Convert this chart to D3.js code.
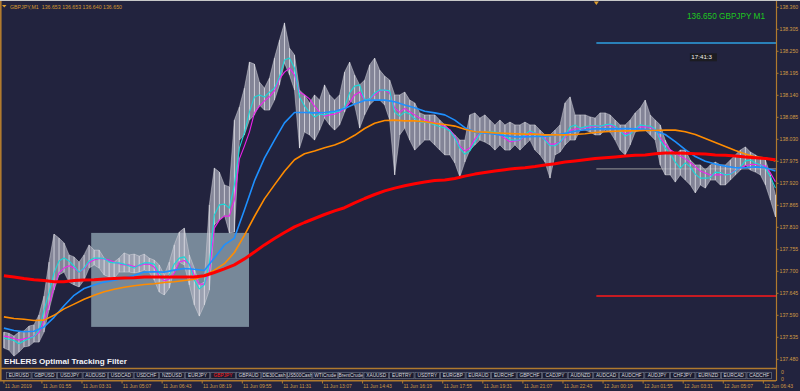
<!DOCTYPE html>
<html>
<head>
<meta charset="utf-8">
<script src="https://cdn.jsdelivr.net/npm/d3@7"></script>
<style>
body { margin: 0; background: #22233e; }
svg { display: block; }
</style>
</head>
<body>
<div id="chart"></div>
<script>
// GBPJPY M1, 11-12 Jun 2019. Times are minutes counted from 11 Jun 00:00.
var firstMinute = 24;
var fineStep = 12;     // price bars, cyan and magenta filters
var coarseStep = 24;   // blue, orange and red averages

var priceHigh = [
  137.548, 137.545, 137.538, 137.548, 137.551, 137.563, 137.566, 137.591, 137.638, 137.723,
  137.793, 137.783, 137.771, 137.741, 137.736, 137.723, 137.741, 137.766, 137.753, 137.753,
  137.733, 137.723, 137.723, 137.733, 137.746, 137.741, 137.743, 137.738, 137.743, 137.733,
  137.728, 137.716, 137.691, 137.723, 137.766, 137.798, 137.808, 137.741, 137.708, 137.666,
  137.673, 137.866, 137.958, 137.948, 137.916, 137.911, 138.078, 138.111, 138.158, 138.223,
  138.218, 138.173, 138.158, 138.183, 138.233, 138.278, 138.321, 138.258, 138.241, 138.153,
  138.141, 138.121, 138.141, 138.128, 138.166, 138.141, 138.128, 138.141, 138.198, 138.223,
  138.191, 138.166, 138.178, 138.216, 138.233, 138.203, 138.188, 138.178, 138.141, 138.141,
  138.148, 138.128, 138.121, 138.096, 138.091, 138.091, 138.091, 138.078, 138.066, 138.053,
  138.041, 138.028, 138.028, 138.091, 138.096, 138.083, 138.091, 138.078, 138.066, 138.078,
  138.066, 138.073, 138.066, 138.066, 138.073, 138.066, 138.066, 138.053, 138.041, 138.041,
  138.053, 138.066, 138.121, 138.136, 138.091, 138.091, 138.091, 138.086, 138.083, 138.096,
  138.096, 138.091, 138.078, 138.066, 138.066, 138.078, 138.096, 138.108, 138.128, 138.091,
  138.078, 138.066, 138.028, 138.003, 137.991, 138.003, 138.003, 137.978, 137.966, 137.966,
  137.953, 137.966, 137.973, 137.966, 137.966, 137.978, 137.991, 138.003, 138.011, 137.998,
  137.991, 137.983, 137.978, 137.941, 137.891
];
var priceLow = [
  137.508, 137.503, 137.488, 137.498, 137.511, 137.513, 137.523, 137.523, 137.548, 137.603,
  137.653, 137.691, 137.698, 137.673, 137.666, 137.661, 137.678, 137.708, 137.716, 137.708,
  137.691, 137.686, 137.683, 137.698, 137.698, 137.698, 137.696, 137.698, 137.703, 137.698,
  137.678, 137.648, 137.641, 137.658, 137.703, 137.723, 137.716, 137.666, 137.616, 137.588,
  137.616, 137.653, 137.816, 137.828, 137.841, 137.796, 137.798, 138.028, 138.041, 138.078,
  138.091, 138.116, 138.103, 138.103, 138.128, 138.166, 138.221, 138.191, 138.153, 138.008,
  138.048, 138.041, 138.028, 138.053, 138.083, 138.066, 138.053, 138.066, 138.098, 138.128,
  138.116, 138.058, 138.091, 138.116, 138.128, 138.128, 138.116, 138.078, 137.941, 138.041,
  138.058, 138.028, 138.003, 138.016, 138.028, 138.028, 138.016, 138.003, 137.991, 137.991,
  137.971, 137.936, 137.973, 138.003, 138.016, 138.028, 138.023, 138.016, 138.003, 138.016,
  138.003, 138.003, 138.016, 138.003, 138.016, 138.028, 138.003, 137.991, 137.973, 137.933,
  137.991, 137.998, 138.016, 138.028, 138.028, 138.053, 138.053, 138.048, 138.041, 138.041,
  138.053, 138.048, 138.028, 138.003, 137.991, 138.016, 138.048, 138.053, 138.053, 138.041,
  138.028, 137.966, 137.941, 137.941, 137.923, 137.941, 137.928, 137.916, 137.896, 137.916,
  137.908, 137.928, 137.928, 137.916, 137.916, 137.928, 137.941, 137.953, 137.966, 137.953,
  137.948, 137.941, 137.916, 137.878, 137.836
];
var cyanVals = [
  137.533, 137.530, 137.527, 137.519, 137.526, 137.532, 137.537, 137.553, 137.603, 137.646,
  137.696, 137.726, 137.733, 137.726, 137.713, 137.698, 137.708, 137.726, 137.733, 137.733,
  137.732, 137.723, 137.721, 137.721, 137.718, 137.713, 137.708, 137.716, 137.721, 137.721,
  137.718, 137.696, 137.681, 137.691, 137.718, 137.733, 137.736, 137.718, 137.678, 137.656,
  137.666, 137.718, 137.841, 137.866, 137.868, 137.858, 137.916, 138.008, 138.046, 138.098,
  138.136, 138.141, 138.136, 138.148, 138.158, 138.186, 138.228, 138.233, 138.208, 138.136,
  138.113, 138.098, 138.086, 138.093, 138.091, 138.096, 138.098, 138.101, 138.111, 138.146,
  138.163, 138.166, 138.128, 138.131, 138.146, 138.153, 138.153, 138.151, 138.098, 138.088,
  138.098, 138.093, 138.081, 138.073, 138.073, 138.071, 138.066, 138.062, 138.058, 138.051,
  138.033, 138.008, 137.993, 138.001, 138.023, 138.043, 138.048, 138.049, 138.048, 138.046,
  138.039, 138.029, 138.028, 138.029, 138.042, 138.051, 138.046, 138.039, 138.028, 138.014,
  138.014, 138.023, 138.038, 138.061, 138.066, 138.058, 138.061, 138.064, 138.064, 138.063,
  138.066, 138.068, 138.063, 138.051, 138.038, 138.043, 138.056, 138.066, 138.064, 138.063,
  138.056, 138.028, 138.008, 137.993, 137.973, 137.958, 137.971, 137.961, 137.943, 137.933,
  137.933, 137.934, 137.948, 137.947, 137.941, 137.943, 137.951, 137.961, 137.976, 137.978,
  137.971, 137.966, 137.958, 137.936, 137.908
];
var magentaVals = [
  137.538, 137.536, 137.532, 137.528, 137.531, 137.534, 137.538, 137.547, 137.576, 137.616,
  137.661, 137.696, 137.708, 137.714, 137.708, 137.698, 137.706, 137.722, 137.728, 137.732,
  137.731, 137.728, 137.723, 137.719, 137.716, 137.716, 137.712, 137.714, 137.718, 137.718,
  137.711, 137.688, 137.676, 137.681, 137.696, 137.723, 137.727, 137.718, 137.691, 137.668,
  137.668, 137.696, 137.808, 137.828, 137.838, 137.838, 137.878, 137.981, 138.013, 138.048,
  138.096, 138.113, 138.126, 138.136, 138.151, 138.181, 138.198, 138.208, 138.191, 138.148,
  138.141, 138.131, 138.113, 138.098, 138.088, 138.091, 138.093, 138.098, 138.106, 138.121,
  138.141, 138.148, 138.128, 138.131, 138.141, 138.151, 138.153, 138.146, 138.108, 138.098,
  138.107, 138.099, 138.091, 138.083, 138.078, 138.074, 138.072, 138.068, 138.062, 138.054,
  138.037, 138.013, 138.001, 138.008, 138.031, 138.044, 138.047, 138.046, 138.044, 138.041,
  138.032, 138.024, 138.026, 138.028, 138.038, 138.047, 138.046, 138.042, 138.031, 138.018,
  138.018, 138.023, 138.034, 138.052, 138.056, 138.057, 138.059, 138.061, 138.062, 138.063,
  138.064, 138.066, 138.061, 138.054, 138.043, 138.047, 138.056, 138.061, 138.061, 138.060,
  138.054, 138.034, 138.018, 138.004, 137.996, 137.988, 137.981, 137.972, 137.961, 137.951,
  137.946, 137.941, 137.941, 137.941, 137.942, 137.944, 137.952, 137.959, 137.964, 137.967,
  137.967, 137.966, 137.963, 137.946, 137.924
];
var blueVals = [
  137.558, 137.552, 137.549, 137.550, 137.561, 137.585, 137.614, 137.640, 137.657, 137.666,
  137.673, 137.678, 137.683, 137.690, 137.698, 137.699, 137.698, 137.703, 137.707, 137.705,
  137.702, 137.733, 137.766, 137.783, 137.853, 137.926, 137.983, 138.028, 138.071, 138.097,
  138.097, 138.096, 138.097, 138.100, 138.107, 138.118, 138.127, 138.128, 138.128, 138.124,
  138.116, 138.109, 138.100, 138.096, 138.091, 138.078, 138.059, 138.048, 138.046, 138.043,
  138.039, 138.036, 138.036, 138.037, 138.037, 138.040, 138.045, 138.050, 138.054, 138.056,
  138.056, 138.056, 138.057, 138.056, 138.055, 138.051, 138.042, 138.024, 138.004, 137.987,
  137.975, 137.968, 137.963, 137.959, 137.959, 137.961, 137.959, 137.951
];
var orangeVals = [
  137.586, 137.582, 137.580, 137.577, 137.578, 137.590, 137.606, 137.618, 137.630, 137.640,
  137.649, 137.655, 137.660, 137.664, 137.667, 137.669, 137.672, 137.674, 137.677, 137.680,
  137.689, 137.703, 137.719, 137.747, 137.790, 137.837, 137.881, 137.916, 137.950, 137.979,
  137.994, 138.001, 138.009, 138.016, 138.026, 138.040, 138.057, 138.070, 138.077, 138.078,
  138.076, 138.076, 138.074, 138.070, 138.067, 138.063, 138.055, 138.049, 138.048, 138.046,
  138.045, 138.044, 138.043, 138.043, 138.041, 138.041, 138.041, 138.042, 138.044, 138.047,
  138.049, 138.050, 138.051, 138.051, 138.052, 138.052, 138.053, 138.053, 138.049, 138.042,
  138.032, 138.022, 138.012, 138.002, 137.993, 137.986, 137.983, 137.976
];
var redVals = [
  137.689, 137.686, 137.682, 137.679, 137.677, 137.674, 137.674, 137.677, 137.678, 137.679,
  137.681, 137.682, 137.683, 137.684, 137.686, 137.686, 137.686, 137.686, 137.686, 137.686,
  137.689, 137.697, 137.706, 137.716, 137.731, 137.748, 137.766, 137.782, 137.797, 137.811,
  137.822, 137.832, 137.842, 137.851, 137.859, 137.871, 137.882, 137.892, 137.901, 137.908,
  137.914, 137.919, 137.923, 137.927, 137.928, 137.932, 137.938, 137.943, 137.947, 137.951,
  137.954, 137.957, 137.959, 137.962, 137.966, 137.969, 137.973, 137.976, 137.979, 137.982,
  137.984, 137.986, 137.988, 137.990, 137.991, 137.994, 137.996, 137.996, 137.995, 137.994,
  137.993, 137.991, 137.990, 137.988, 137.986, 137.984, 137.982, 137.979
];

var priceTicks = [138.360, 138.305, 138.250, 138.195, 138.140, 138.085, 138.030, 137.975,
  137.920, 137.865, 137.810, 137.755, 137.700, 137.645, 137.590, 137.535, 137.480];
var timeTicks = [24, 115, 211, 307, 403, 499, 595, 691, 787, 883,
  979, 1075, 1171, 1267, 1363, 1459, 1555, 1651, 1747, 1843];
var timeLabels = ["11 Jun 2019", "11 Jun 01:55", "11 Jun 03:31", "11 Jun 05:07", "11 Jun 06:43",
  "11 Jun 08:19", "11 Jun 09:55", "11 Jun 11:31", "11 Jun 13:07", "11 Jun 14:43",
  "11 Jun 16:19", "11 Jun 17:55", "11 Jun 19:31", "11 Jun 21:07", "11 Jun 22:43",
  "12 Jun 00:19", "12 Jun 01:55", "12 Jun 03:31", "12 Jun 05:07", "12 Jun 06:43"];
var symbols = ["EURUSD", "GBPUSD", "USDJPY", "AUDUSD", "USDCAD", "USDCHF", "NZDUSD", "EURJPY",
  "GBPJPY", "GBPAUD", "DE30Cash", "US500Cash", "WTICrude", "BrentCrude", "XAUUSD", "EURTRY",
  "USDTRY", "EURGBP", "EURAUD", "EURCHF", "GBPCHF", "CADJPY", "AUDNZD", "AUDCAD", "AUDCHF",
  "AUDJPY", "CHFJPY", "EURNZD", "EURCAD", "CADCHF"];
var activeSymbol = "GBPJPY";
var levelPrices = [138.271, 137.956, 137.638];
var levelStart = 1443;
var boxTimes = [233, 611];
var boxPrices = [137.561, 137.796];
var headerText = "GBPJPY,M1  136.653 136.653 136.640 136.650";
var bidText = "136.650 GBPJPY M1";
var clockText = "17:41:3";

var W = 800, H = 391;
var plotRight = 776, plotTop = 3, plotBottom = 368;
var axisColor = "#b07a2e", labelColor = "#d09a44";

var svg = d3.select("#chart").append("svg")
  .attr("width", W)
  .attr("height", H)
  .style("font-family", "'Liberation Sans', Arial, sans-serif");

svg.append("rect").attr("width", W).attr("height", H).attr("fill", "#22233e");

var x = d3.scaleLinear().domain([0, 1000]).range([-6.1, 411.4]);
var y = d3.scaleLinear().domain([137.480, 138.360]).range([359.3, 7.3]);

svg.append("defs").append("clipPath").attr("id", "plotClip")
  .append("rect")
  .attr("x", 1).attr("y", plotTop)
  .attr("width", plotRight - 1).attr("height", plotBottom - plotTop);

var g = svg.append("g").attr("clip-path", "url(#plotClip)");

// rectangle object drawn behind everything
g.append("rect")
  .attr("x", x(boxTimes[0]))
  .attr("y", y(boxPrices[1]))
  .attr("width", x(boxTimes[1]) - x(boxTimes[0]))
  .attr("height", y(boxPrices[0]) - y(boxPrices[1]))
  .attr("fill", "#778899");

// horizontal levels
var levelColors = ["#2a80b8", "#9a9a9a", "#ff1a1a"];
var levelWidths = [2, 1, 1.5];
g.selectAll(".level").data(levelPrices).enter().append("line")
  .attr("class", "level")
  .attr("x1", x(levelStart)).attr("x2", plotRight)
  .attr("y1", function(d) { return y(d); })
  .attr("y2", function(d) { return y(d); })
  .attr("stroke", function(d, i) { return levelColors[i]; })
  .attr("stroke-width", function(d, i) { return levelWidths[i]; });

// price bars: a grey band between highs and lows, with the sampled bars on top
var bars = priceHigh.map(function(h, i) {
  return { t: firstMinute + i * fineStep, h: h, l: priceLow[i] };
});
g.append("path").datum(bars)
  .attr("d", d3.area()
    .x(function(d) { return x(d.t); })
    .y0(function(d) { return y(d.l); })
    .y1(function(d) { return y(d.h); }))
  .attr("fill", "#a9abba")
  .attr("fill-opacity", 0.72)
  .attr("stroke", "#d6d6de")
  .attr("stroke-width", 0.6)
  .attr("stroke-opacity", 0.8);
g.selectAll(".bar").data(bars).enter().append("line")
  .attr("class", "bar")
  .attr("x1", function(d) { return x(d.t); })
  .attr("x2", function(d) { return x(d.t); })
  .attr("y1", function(d) { return y(d.h); })
  .attr("y2", function(d) { return y(d.l); })
  .attr("stroke", "#f2f2f6")
  .attr("stroke-width", 0.8)
  .attr("stroke-opacity", 0.85);

function series(vals, step) {
  return vals.map(function(v, i) { return { t: firstMinute + i * step, v: v }; });
}
var line = d3.line()
  .x(function(d) { return x(d.t); })
  .y(function(d) { return y(d.v); });

var lines = [
  { data: series(magentaVals, fineStep), color: "#ee22ee", width: 1.1 },
  { data: series(cyanVals, fineStep), color: "#18d8d8", width: 1.1 },
  { data: series(blueVals, coarseStep), color: "#1e90ff", width: 1.6 },
  { data: series(orangeVals, coarseStep), color: "#ff8c00", width: 1.6 },
  { data: series(redVals, coarseStep), color: "#ff0000", width: 3 }
];
lines.forEach(function(s) {
  g.append("path").datum(s.data)
    .attr("d", line)
    .attr("fill", "none")
    .attr("stroke", s.color)
    .attr("stroke-width", s.width)
    .attr("stroke-linejoin", "round");
});

// frame
svg.append("line").attr("x1", 0).attr("x2", W).attr("y1", 0.5).attr("y2", 0.5)
  .attr("stroke", "#c8c8c8");
svg.append("line").attr("x1", 0.8).attr("x2", 0.8).attr("y1", 1).attr("y2", 381)
  .attr("stroke", axisColor).attr("stroke-width", 1.6);
svg.append("line").attr("x1", plotRight + 0.5).attr("x2", plotRight + 0.5).attr("y1", 1).attr("y2", 381)
  .attr("stroke", axisColor).attr("stroke-width", 1.2);
svg.append("line").attr("x1", 0).attr("x2", plotRight).attr("y1", plotBottom + 0.5).attr("y2", plotBottom + 0.5)
  .attr("stroke", axisColor).attr("stroke-width", 1.6);
svg.append("line").attr("x1", 0).attr("x2", plotRight).attr("y1", 380.8).attr("y2", 380.8)
  .attr("stroke", axisColor).attr("stroke-width", 1.4);

// price axis
var yAxis = svg.append("g");
yAxis.selectAll(".ptick").data(priceTicks).enter().append("line")
  .attr("x1", plotRight).attr("x2", plotRight + 2.5)
  .attr("y1", function(d) { return y(d); })
  .attr("y2", function(d) { return y(d); })
  .attr("stroke", axisColor);
yAxis.selectAll(".plabel").data(priceTicks).enter().append("text")
  .attr("x", 779.5)
  .attr("y", function(d) { return y(d) + 1.9; })
  .attr("font-size", 5.2)
  .attr("fill", labelColor)
  .text(function(d) { return d3.format(".3f")(d); });

// indicator sub-window scale
[372, 379].forEach(function(v) {
  svg.append("text").attr("x", 781).attr("y", v + 1.9).attr("font-size", 5.2)
    .attr("fill", labelColor).text("0");
});

// time axis
var xAxis = svg.append("g");
xAxis.selectAll(".ttick").data(timeTicks).enter().append("line")
  .attr("x1", function(d) { return x(d); })
  .attr("x2", function(d) { return x(d); })
  .attr("y1", 381).attr("y2", 383.5)
  .attr("stroke", axisColor);
xAxis.selectAll(".tlabel").data(timeTicks).enter().append("text")
  .attr("x", function(d) { return x(d) + 0.8; })
  .attr("y", 388)
  .attr("font-size", 5)
  .attr("fill", labelColor)
  .text(function(d, i) { return timeLabels[i]; });

// symbol buttons
var btnLeft = 6, btnRight = 772, btnTop = 372.3, btnH = 6.4;
var btnW = (btnRight - btnLeft) / symbols.length;
var btn = svg.selectAll(".btn").data(symbols).enter().append("g")
  .attr("class", "btn")
  .attr("transform", function(d, i) { return "translate(" + (btnLeft + i * btnW) + "," + btnTop + ")"; });
btn.append("clipPath").attr("id", function(d, i) { return "btnClip" + i; })
  .append("rect").attr("x", 0.5).attr("y", 0).attr("width", btnW - 1).attr("height", btnH);
btn.append("rect")
  .attr("x", 0.5).attr("y", 0)
  .attr("width", btnW - 1).attr("height", btnH)
  .attr("fill", "#1b1c30")
  .attr("stroke", "#6c7384")
  .attr("stroke-width", 0.7);
btn.append("text")
  .attr("clip-path", function(d, i) { return "url(#btnClip" + i + ")"; })
  .attr("x", btnW / 2).attr("y", btnH - 1.5)
  .attr("text-anchor", "middle")
  .attr("font-size", 4.8)
  .attr("fill", function(d) { return d === activeSymbol ? "#ff2020" : "#d8d8de"; })
  .text(function(d) { return d; });

// indicator name
svg.append("text")
  .attr("x", 4).attr("y", 364)
  .attr("font-size", 8.1)
  .attr("font-weight", "bold")
  .attr("fill", "#f2f2f6")
  .text("EHLERS Optimal Tracking Filter");

// header
svg.append("path").attr("d", "M2,5 L6.5,5 L4.25,7.6 Z").attr("fill", "#e0a030");
svg.append("text")
  .attr("x", 10).attr("y", 8.6)
  .attr("font-size", 5.4)
  .attr("fill", "#d89a30")
  .attr("textLength", 112)
  .attr("lengthAdjust", "spacingAndGlyphs")
  .attr("xml:space", "preserve")
  .text(headerText);

// chart shift marker
var shiftX = x(levelStart);
svg.append("path")
  .attr("d", "M" + (shiftX - 2.5) + ",1.5 L" + (shiftX + 2.5) + ",1.5 L" + shiftX + ",5 Z")
  .attr("fill", "#e0a030");

// bid label
svg.append("text")
  .attr("x", 765).attr("y", 19.3)
  .attr("text-anchor", "end")
  .attr("font-size", 9)
  .attr("fill", "#1ec81e")
  .attr("textLength", 78)
  .attr("lengthAdjust", "spacingAndGlyphs")
  .text(bidText);

// bar clock
var clockG = svg.append("g").attr("transform", "translate(" + x(1667) + "," + y(138.245) + ")");
clockG.append("rect").attr("width", 27).attr("height", 8).attr("fill", "#1c1c22");
clockG.append("text").attr("x", 1.5).attr("y", 6).attr("font-size", 6.2)
  .attr("fill", "#f0f0f0").text(clockText);
</script>
</body>
</html>
